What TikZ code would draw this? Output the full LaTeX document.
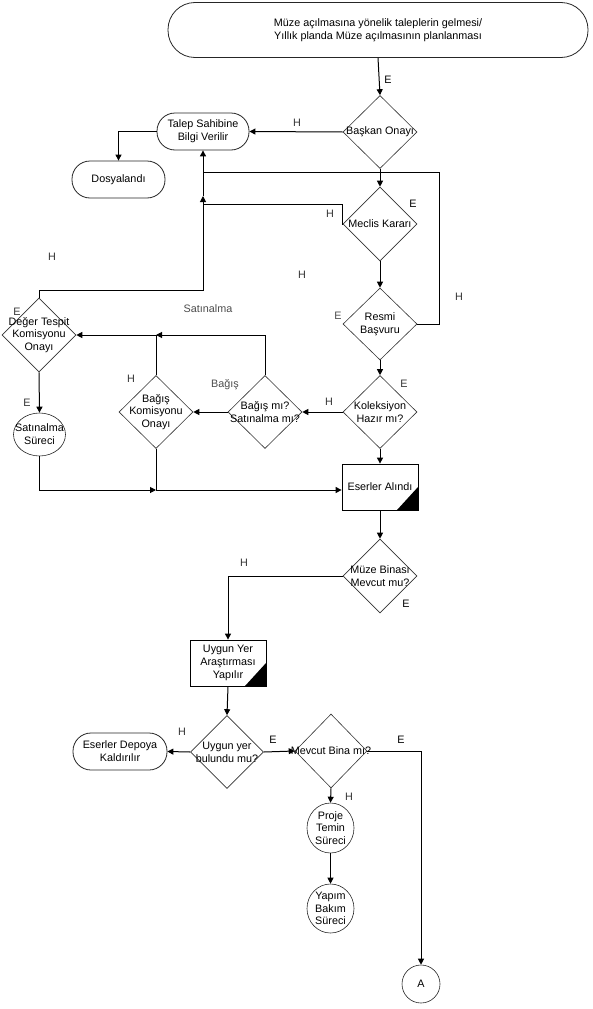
\documentclass[tikz,border=0pt]{standalone}
\usepackage{fontspec}
\setmainfont{Liberation Sans}
\usetikzlibrary{shapes.geometric,arrows.meta}
\begin{document}
\begin{tikzpicture}[x=1pt,y=-1pt,
  every node/.style={font=\fontsize{10.8}{12.8}\selectfont},
  line/.style={draw=black, line width=1pt},
  arr/.style={line, -{Triangle[length=6pt,width=6pt]}},
  dec/.style={diamond, draw=black!80, line width=0.6pt, minimum width=74pt, minimum height=74pt, inner sep=0pt},
  term/.style={rectangle, draw=black!85, line width=0.8pt, rounded corners=18pt, align=center, minimum width=93pt, minimum height=37pt, inner sep=0pt},
  proc/.style={rectangle, draw=black, line width=0.8pt, align=center, minimum width=76pt, minimum height=46pt, inner sep=0pt,
    path picture={\fill[black] (path picture bounding box.south east) -- ++(-21pt,0pt) -- ++(21pt,23pt) -- cycle;}},
  circ/.style={ellipse, draw=black!85, line width=0.6pt, inner sep=0pt},
  dt/.style={align=center, inner sep=0pt},
  lab/.style={inner sep=0pt, text=black!80}
]
\useasboundingbox (0,0) rectangle (593,1009);

% nodes
\node[term, rounded corners=27pt, minimum width=420pt, minimum height=55pt] (top) at (378,30)
  {Müze açılmasına yönelik taleplerin gelmesi/\\Yıllık planda Müze açılmasının planlanması};
\node[dec, minimum height=73pt, label={[dt]center:Başkan Onayı}] (baskan) at (380,132) {};
\node[term, minimum width=92pt] (talep) at (203,131.5) {Talep Sahibine\\Bilgi Verilir};
\node[term] (dosya) at (118.5,179.5) {Dosyalandı};
\node[dec, label={[dt]center:Meclis Kararı}] (meclis) at (380,224) {};
\node[dec, minimum height=72pt, label={[dt]center:Resmi\\Başvuru}] (resmi) at (380,324) {};
\node[dec, minimum height=73pt, label={[dt]center:Koleksiyon\\Hazır mı?}] (kol) at (380,412) {};
\node[dec, minimum height=73pt, label={[dt]center:Bağış mı?\\Satınalma mı?}] (bagismi) at (265,412) {};
\node[dec, minimum height=73pt, label={[dt]center:Bağış\\Komisyonu\\Onayı}] (bk) at (156,412) {};
\node[dec, label={[dt]center:Değer Tespit\\Komisyonu\\Onayı}] (deger) at (39,335) {};
\node[circ, minimum width=52pt, minimum height=43pt, label={[dt]center:Satınalma\\Süreci}] (sats) at (39.5,434.5) {};
\node[proc] (eserler) at (380,487) {Eserler Alındı};
\node[dec, label={[dt]center:Müze Binası\\Mevcut mu?}] (muze) at (380,576) {};
\node[proc] (uygunyer) at (228,663) {Uygun Yer\\Araştırması\\Yapılır};
\node[dec, minimum width=73pt, minimum height=73pt, label={[dt]center:Uygun yer\\bulundu mu?}] (uygun) at (227,752) {};
\node[term, minimum width=94pt] (depo) at (120,751.5) {Eserler Depoya\\Kaldırılır};
\node[dec, minimum width=72pt, label={[dt]center:Mevcut Bina mı?}] (mevcut) at (331,751) {};
\node[circ, minimum width=47pt, minimum height=50pt, label={[dt]center:Proje\\Temin\\Süreci}] (proje) at (330.5,828) {};
\node[circ, minimum width=47pt, minimum height=49pt, label={[dt]center:Yapım\\Bakım\\Süreci}] (yapim) at (330.5,908.5) {};
\node[circ, minimum width=38pt, minimum height=38pt] (A) at (421,984) {A};

% junction coordinates
\coordinate (jT) at (203,196);
\coordinate (jS) at (156,335);
\coordinate (jB) at (156,490);

% connectors
\draw[arr] (top.south) -- (baskan.north);
\draw[arr] (baskan.west) -- (talep.east);
\draw[arr] (talep.west) -| (dosya.north);
\draw[arr] (baskan.south) -- (meclis.north);
\draw[arr] (meclis.south) -- (resmi.north);
\draw[arr] (resmi.east) -| (439,172) -- (203,172) -- (talep.south);
\draw[line] (meclis.west) -- (342,224) -- (342,204) -- (203,204);
\draw[arr] (deger.north) -- (39,290) -- (203,290) -- (jT);
\draw[line] (jT) -- (203,172);
\draw[arr] (resmi.south) -- (kol.north);
\draw[arr] (kol.south) -- (eserler.north);
\draw[arr] (kol.west) -- (bagismi.east);
\draw[arr] (bagismi.west) -- (bk.east);
\draw[arr] (bagismi.north) |- (jS);
\draw[arr] (bk.north) -- (jS) -- (deger.east);
\draw[arr] (deger.south) -- (sats.north);
\draw[arr] (sats.south) |- (jB);
\draw[arr] (bk.south) -- (jB) -- (eserler.west |- jB);
\draw[arr] (eserler.south) -- (muze.north);
\draw[arr] (muze.west) -| (uygunyer.north);
\draw[arr] (uygunyer.south) -- (uygun.north);
\draw[arr] (uygun.west) -- (depo.east);
\draw[arr] (uygun.east) -- (mevcut.west);
\draw[arr] (mevcut.south) -- (proje.north);
\draw[arr] (proje.south) -- (yapim.north);
\draw[arr] (mevcut.east) -| (A.north);

% edge labels
\node[lab, text=black] (l1) at (388,80) {E};
\node[lab] (l2) at (297,123) {H};
\node[lab, text=black] (l3) at (413,204) {E};
\node[lab] (l4) at (330,214) {H};
\node[lab] (l5) at (52,257) {H};
\node[lab] (l6) at (302,275) {H};
\node[lab] (l7) at (459,297) {H};
\node[lab, text=black!70] (l8) at (208,309) {Satınalma};
\node[lab, text=black!70] (l9) at (338,316) {E};
\node[lab] (l10) at (17,312) {E};
\node[lab] (l11) at (131,379) {H};
\node[lab, text=black!70] (l12) at (225,385) {Bağış};
\node[lab] (l13) at (404,384) {E};
\node[lab] (l14) at (329,402) {H};
\node[lab] (l15) at (27,403) {E};
\node[lab] (l16) at (244,563) {H};
\node[lab, text=black] (l17) at (406,604) {E};
\node[lab] (l18) at (182,732) {H};
\node[lab, text=black] (l19) at (273,740) {E};
\node[lab, text=black] (l20) at (401,740) {E};
\node[lab] (l21) at (349,797) {H};
\end{tikzpicture}
\end{document}
